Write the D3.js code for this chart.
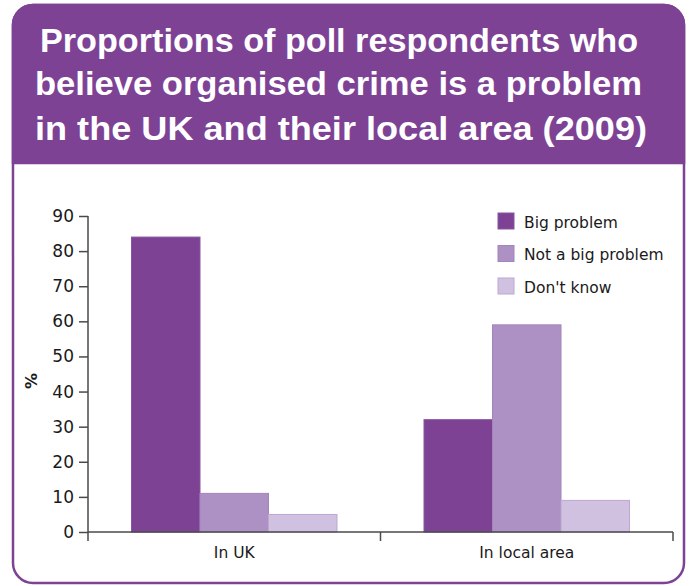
<!DOCTYPE html>
<html>
<head>
<meta charset="utf-8">
<script src="https://cdn.jsdelivr.net/npm/d3@7"></script>
<style>
  html, body { margin: 0; padding: 0; background: #ffffff; }
  svg { display: block; }
</style>
</head>
<body>
<div id="chart"></div>
<script>
// ---- data ----
const titleLines = [
  "Proportions of poll respondents who",
  "believe organised crime is a problem",
  "in the UK and their local area (2009)"
];
const categories = ["In UK", "In local area"];
const seriesNames = ["Big problem", "Not a big problem", "Don't know"];
const bigProblem = [84, 32];
const notBigProblem = [11, 59];
const dontKnow = [5, 9];
const yTicks = [0, 10, 20, 30, 40, 50, 60, 70, 80, 90];
const yLabel = "%";

// ---- styling ----
const W = 690, H = 586;
const purple = "#7e4295";
const colors = ["#7e4295", "#ae91c4", "#d0c1e0"];
const strokes = ["#8a55a0", "#a384bb", "#bda7d3"];
const font = "'DejaVu Sans', 'Liberation Sans', sans-serif";

const svg = d3.select("#chart").append("svg")
  .attr("width", W).attr("height", H);

// frame
const fx0 = 13, fy0 = 5, fx1 = 684, fy1 = 583, r = 20, hb = 163;
svg.append("rect")
  .attr("x", fx0).attr("y", fy0)
  .attr("width", fx1 - fx0).attr("height", fy1 - fy0)
  .attr("rx", r).attr("ry", r)
  .attr("fill", "#ffffff").attr("stroke", purple).attr("stroke-width", 2.5);

// header with rounded top corners
const hp = d3.path();
hp.moveTo(fx0, hb);
hp.lineTo(fx0, fy0 + r);
hp.arcTo(fx0, fy0, fx0 + r, fy0, r);
hp.lineTo(fx1 - r, fy0);
hp.arcTo(fx1, fy0, fx1, fy0 + r, r);
hp.lineTo(fx1, hb);
hp.closePath();
svg.append("path").attr("d", hp.toString()).attr("fill", purple)
  .attr("stroke", purple).attr("stroke-width", 2.5);

// title
const titleBaselines = [52, 94.5, 140];
const titleWidths = [598, 607, 612];
const titleCenters = [339, 338.5, 341];
svg.append("g").selectAll("text").data(titleLines).join("text")
  .attr("x", (d, i) => titleCenters[i])
  .attr("y", (d, i) => titleBaselines[i])
  .attr("text-anchor", "middle")
  .attr("textLength", (d, i) => titleWidths[i])
  .attr("lengthAdjust", "spacingAndGlyphs")
  .attr("font-family", "'Liberation Sans Narrow', 'Liberation Sans', Arial, sans-serif")
  .attr("font-weight", "bold")
  .attr("font-size", 34)
  .attr("fill", "#ffffff")
  .text(d => d);

// scales
const plotL = 88, plotR = 673, y0px = 532, y90px = 216;
const y = d3.scaleLinear().domain([0, 90]).range([y0px, y90px]);
const x0 = d3.scaleBand().domain(categories).range([plotL, plotR]).padding(0);
const x1 = d3.scaleBand().domain(seriesNames).range([0, x0.bandwidth()])
  .paddingInner(0).paddingOuter(0.635);

const seriesValues = [bigProblem, notBigProblem, dontKnow];
const rows = [];
categories.forEach((c, ci) => {
  seriesNames.forEach((s, si) => {
    rows.push({ cat: c, series: s, si, value: seriesValues[si][ci] });
  });
});

// bars
svg.append("g").selectAll("rect").data(rows).join("rect")
  .attr("x", d => x0(d.cat) + x1(d.series))
  .attr("y", d => y(d.value))
  .attr("width", x1.bandwidth())
  .attr("height", d => y(0) - y(d.value))
  .attr("fill", d => colors[d.si])
  .attr("stroke", d => strokes[d.si])
  .attr("stroke-width", 1);

// y axis
const axisColor = "#4a4a4a";
const yAxis = svg.append("g")
  .attr("transform", `translate(${plotL},0)`)
  .call(d3.axisLeft(y).tickValues(yTicks).tickSize(9).tickPadding(5));
yAxis.select(".domain").remove();
yAxis.selectAll(".tick line").attr("stroke", axisColor).attr("stroke-width", 1.5);
yAxis.selectAll(".tick text")
  .attr("font-family", font).attr("font-size", 17).attr("fill", "#1a1a1a");
svg.append("line")
  .attr("x1", plotL).attr("x2", plotL)
  .attr("y1", y(90)).attr("y2", y(0) + 9)
  .attr("stroke", axisColor).attr("stroke-width", 1.5);

// x axis
const xAxis = svg.append("g")
  .attr("transform", `translate(0,${y(0)})`)
  .call(d3.axisBottom(x0).tickSize(0).tickPadding(15));
xAxis.select(".domain").remove();
xAxis.selectAll(".tick text")
  .attr("font-family", font).attr("font-size", 15.5).attr("fill", "#1a1a1a");
svg.append("line")
  .attr("x1", plotL).attr("x2", plotR)
  .attr("y1", y(0)).attr("y2", y(0))
  .attr("stroke", axisColor).attr("stroke-width", 1.5);
svg.append("g").selectAll("line").data(categories).join("line")
  .attr("x1", d => x0(d) + x0.bandwidth()).attr("x2", d => x0(d) + x0.bandwidth())
  .attr("y1", y(0)).attr("y2", y(0) + 9)
  .attr("stroke", axisColor).attr("stroke-width", 1.5);

// y label
svg.append("text")
  .attr("transform", `translate(37,381) rotate(-90)`)
  .attr("text-anchor", "middle")
  .attr("font-family", font).attr("font-size", 16).attr("font-weight", "bold")
  .attr("fill", "#1a1a1a")
  .text(yLabel);

// legend
const lg = svg.append("g").attr("transform", "translate(498,213)");
const li = lg.selectAll("g").data(seriesNames).join("g")
  .attr("transform", (d, i) => `translate(0,${i * 32.5})`);
li.append("rect").attr("width", 16).attr("height", 16)
  .attr("fill", (d, i) => colors[i]).attr("stroke", (d, i) => strokes[i]).attr("stroke-width", 1);
li.append("text").attr("x", 26).attr("y", 14.5)
  .attr("font-family", font).attr("font-size", 15.5).attr("fill", "#1a1a1a")
  .text(d => d);
</script>
</body>
</html>
